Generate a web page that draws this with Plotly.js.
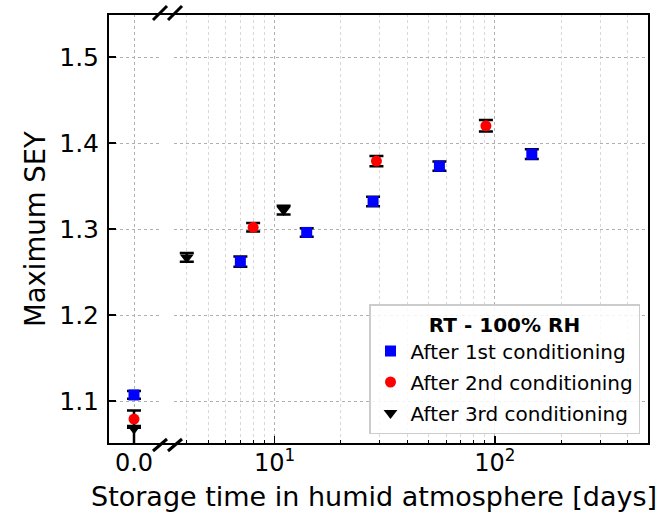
<!DOCTYPE html>
<html>
<head>
<meta charset="utf-8">
<script src="https://cdn.plot.ly/plotly-3.0.1.min.js"></script>
<style>html,body{margin:0;padding:0;background:#fff;}</style>
</head>
<body>
<div id="chart" style="width:666px;height:513px;"></div>
<script>
// ---- data ----
const seriesNames = ['After 1st conditioning', 'After 2nd conditioning', 'After 3rd conditioning'];
const days1 = [0, 7, 14, 28, 56, 147];
const sey1  = [1.107, 1.262, 1.296, 1.332, 1.373, 1.387];
const err1  = [0.0045, 0.006, 0.005, 0.0056, 0.0054, 0.0056];
const days2 = [0, 8, 29, 91];
const sey2  = [1.079, 1.302, 1.379, 1.420];
const err2  = [0.010, 0.005, 0.006, 0.0066];
const days3 = [0, 4, 11];
const sey3  = [1.068, 1.267, 1.322];
const err3p = [0.003, 0.005, 0.005];
const err3m = [0.030, 0.005, 0.005];
const leftTickVals = [0];
const leftTickText = ['0.0'];
const logTickVals = [10, 100];
const logTickText = ['10<sup>1</sup>', '10<sup>2</sup>'];
const yTickVals = [1.1, 1.2, 1.3, 1.4, 1.5];
const legendTitle = '<b>RT - 100% RH</b>';
const xTitle = 'Storage time in humid atmosphere [days]';
const yTitle = 'Maximum SEY';

// ---- styling ----
const FONT = 'DejaVu Sans, sans-serif';
const styles = [
  {color: '#0000ff', symbol: 'square', size: 11},
  {color: '#ff0000', symbol: 'circle', size: 11},
  {color: '#000000', symbol: 'triangle-down', size: 12}
];
const series = [
  {d: days1, y: sey1, ep: err1, em: err1},
  {d: days2, y: sey2, ep: err2, em: err2},
  {d: days3, y: sey3, ep: err3p, em: err3m}
];

const traces = [];
series.forEach((s, i) => {
  const st = styles[i];
  const pick = (cond) => {
    const idx = s.d.map((v, k) => k).filter(k => cond(s.d[k]));
    return {
      x: idx.map(k => s.d[k]), y: idx.map(k => s.y[k]),
      ep: idx.map(k => s.ep[k]), em: idx.map(k => s.em[k])
    };
  };
  const parts = [[pick(v => v === 0), 'x', false], [pick(v => v > 0), 'x2', true]];
  parts.forEach(([p, xa, leg]) => {
    traces.push({
      type: 'scatter', mode: 'markers',
      x: p.x, y: p.y, xaxis: xa, yaxis: 'y',
      name: seriesNames[i], legendgroup: 'g' + i, showlegend: leg,
      marker: {color: st.color, symbol: st.symbol, size: st.size, line: {width: 0}},
      error_y: {type: 'data', symmetric: false, array: p.ep, arrayminus: p.em,
                color: '#000', thickness: 2.5, width: 7},
      cliponaxis: true
    });
  });
});

// paper coordinate helpers for the decorative break marks (plot area 108..649 x 14..444)
const px = v => (v - 108) / 541;
const py = v => (444 - v) / 430;
const slash = (x0, y0, x1, y1) => ({type: 'line', xref: 'paper', yref: 'paper',
  x0: px(x0), y0: py(y0), x1: px(x1), y1: py(y1), line: {color: '#000', width: 3}, layer: 'above'});

const gridMajor = '#b0b0b0';
const gridMinor = '#d8d8d8';

const layout = {
  width: 666, height: 513,
  margin: {l: 108, r: 17, t: 14, b: 69},
  paper_bgcolor: '#fff', plot_bgcolor: '#fff',
  font: {family: FONT, size: 25, color: '#000'},
  showlegend: true,
  xaxis: {
    domain: [0, px(160)], range: [-1, 1], anchor: 'y',
    tickvals: leftTickVals, ticktext: leftTickText,
    ticks: 'inside', ticklen: 8, tickwidth: 1.5, tickcolor: '#000',
    showline: false, zeroline: false,
    showgrid: true, gridcolor: gridMajor, griddash: 'dot', gridwidth: 1,
    ticklabelstandoff: 2, tickfont: {size: 24}
  },
  xaxis2: {
    domain: [px(174), 1], type: 'log', range: [Math.log10(3.5), Math.log10(500)], anchor: 'y',
    tickvals: logTickVals, ticktext: logTickText,
    ticks: 'inside', ticklen: 8, tickwidth: 1.5, tickcolor: '#000',
    showline: false, zeroline: false,
    showgrid: true, gridcolor: gridMajor, griddash: 'dot', gridwidth: 1,
    minor: {dtick: 'D1', ticks: 'inside', ticklen: 4, tickwidth: 1, tickcolor: '#000',
            showgrid: true, gridcolor: gridMinor, griddash: 'dot', gridwidth: 1},
    ticklabelstandoff: 2, tickfont: {size: 24}
  },
  yaxis: {
    range: [1.05, 1.55], anchor: 'x',
    tickvals: yTickVals, tickformat: '.1f',
    ticks: 'inside', ticklen: 8, tickwidth: 1.5, tickcolor: '#000',
    showline: false, zeroline: false,
    showgrid: true, gridcolor: gridMajor, griddash: 'dot', gridwidth: 1,
    ticklabelstandoff: 8, tickfont: {size: 25}
  },
  legend: {
    x: px(640), xanchor: 'right', y: py(434), yanchor: 'bottom',
    bgcolor: 'rgba(255,255,255,0.85)', bordercolor: '#cccccc', borderwidth: 1.5,
    font: {family: FONT, size: 20, color: '#000'},
    title: {text: legendTitle, side: 'top center', font: {family: FONT, size: 20, color: '#000'}},
    traceorder: 'grouped', tracegroupgap: 2, itemwidth: 30
  },
  shapes: [
    {type: 'rect', xref: 'paper', yref: 'paper', x0: 0, y0: 0, x1: 1, y1: 1,
     line: {color: '#000', width: 2}, layer: 'above'},
    slash(153, 20, 167, 6), slash(168, 20, 182, 6),
    slash(153, 451, 167, 439), slash(168, 451, 182, 439)
  ],
  annotations: [
    {text: xTitle, xref: 'paper', yref: 'paper', x: px(374), y: py(496),
     xanchor: 'center', yanchor: 'middle', showarrow: false, font: {family: FONT, size: 27}},
    {text: yTitle, xref: 'paper', yref: 'paper', x: px(35), y: 0.5, textangle: -90,
     xanchor: 'center', yanchor: 'middle', showarrow: false, font: {family: FONT, size: 27.5}}
  ]
};

Plotly.newPlot('chart', traces, layout, {displayModeBar: false, staticPlot: true});
</script>
</body>
</html>
